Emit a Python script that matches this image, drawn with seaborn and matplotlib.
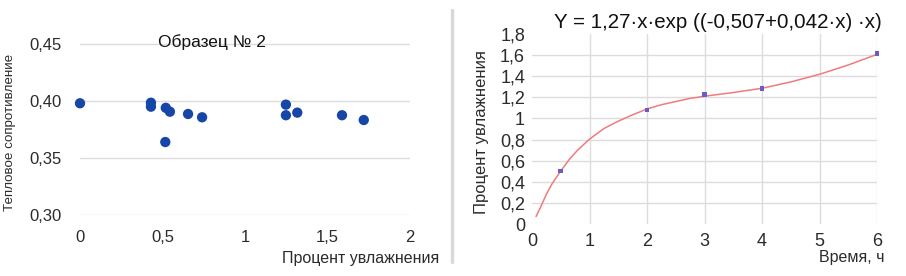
import numpy as np
import pandas as pd
import matplotlib
matplotlib.use("Agg")
import matplotlib.pyplot as plt
import seaborn as sns
from matplotlib.lines import Line2D

sns.set_style("white")
plt.rcParams["font.family"] = ["Liberation Sans", "DejaVu Sans"]

# left panel: thermal resistance vs moisture percent
moist_x = [0.0, 0.43, 0.43, 0.52, 0.545, 0.517, 0.655, 0.74, 1.248, 1.248, 1.317, 1.588, 1.72]
resist_y = [0.398, 0.3985, 0.395, 0.394, 0.3906, 0.364, 0.3886, 0.3857, 0.3968, 0.3875, 0.3898, 0.3875, 0.3833]

# right panel: moisture percent vs time
time_pts = [0.5, 2, 3, 4, 6]
moist_pts = [0.505, 1.08, 1.23, 1.28, 1.61]
# fitted trend line
curve_x = [0.07, 0.15, 0.25, 0.35, 0.5, 0.65, 0.8, 1.0, 1.25, 1.5, 1.75, 2.0, 2.25,
           2.5, 2.75, 3.0, 3.5, 4.0, 4.5, 5.0, 5.5, 6.0]
curve_y = [0.075, 0.165, 0.285, 0.385, 0.505, 0.615, 0.705, 0.805, 0.905, 0.975, 1.035,
           1.09, 1.13, 1.16, 1.19, 1.21, 1.245, 1.285, 1.345, 1.417, 1.505, 1.605]

left_yticks = [0.30, 0.35, 0.40, 0.45]
left_yticklabels = ["0,30", "0,35", "0,40", "0,45"]
left_xticks = [0, 0.5, 1, 1.5, 2]
left_xticklabels = ["0", "0,5", "1", "1,5", "2"]
right_yticks = [0, 0.2, 0.4, 0.6, 0.8, 1.0, 1.2, 1.4, 1.6, 1.8]
right_yticklabels = ["0", "0,2", "0,4", "0,6", "0,8", "1", "1,2", "1,4", "1,6", "1,8"]
right_xticks = [0, 1, 2, 3, 4, 5, 6]

txt = "#2b2b2b"
grid_c = "#dcdcdc"

fig = plt.figure(figsize=(9.06, 2.76), dpi=100)

# ---- left
ax1 = fig.add_axes([0.0883, 0.221, 0.3642, 0.661])
df1 = pd.DataFrame({"x": moist_x, "y": resist_y})
sns.scatterplot(data=df1, x="x", y="y", ax=ax1, color="#1546a8", s=55,
                edgecolor="none", clip_on=False, zorder=3)
ax1.set_xlim(0, 2)
ax1.set_ylim(0.30, 0.46)
ax1.set_yticks(left_yticks, left_yticklabels)
ax1.set_xticks(left_xticks, left_xticklabels)
ax1.grid(axis="y", color=grid_c, lw=1)
ax1.grid(axis="x", visible=False)
for s in ax1.spines.values():
    s.set_visible(False)
ax1.tick_params(axis="y", length=0, pad=13, labelsize=12, labelcolor=txt)
ax1.tick_params(axis="x", length=0, pad=11, labelsize=12, labelcolor=txt)
ax1.set_xlabel("Процент увлажнения", fontsize=11.5, color=txt, ha="right")
ax1.xaxis.set_label_coords(1.09, -0.195)
ax1.set_ylabel("Тепловое сопротивление", fontsize=9.6, color=txt)
ax1.yaxis.set_label_coords(-0.195, 0.45)
ax1.text(0.4, 0.948, "Образец № 2", transform=ax1.transAxes, ha="center",
         va="center", fontsize=12.5, color="#111111")

# separator
fig.add_artist(Line2D([452 / 906, 452 / 906], [1 - 10 / 276, 1 - 262 / 276],
                      color="#d9d9d9", lw=2.5))

# ---- right
ax2 = fig.add_axes([0.5872, 0.1866, 0.3808, 0.6913])
df_c = pd.DataFrame({"x": curve_x, "y": curve_y})
sns.lineplot(data=df_c, x="x", y="y", ax=ax2, color="#f07b7b", lw=1.1, zorder=2)
df2 = pd.DataFrame({"x": time_pts, "y": moist_pts})
sns.scatterplot(data=df2, x="x", y="y", ax=ax2, color="#6a5cc8", marker="s",
                s=12, edgecolor="none", clip_on=False, zorder=3)
ax2.set_xlim(0, 6)
ax2.set_ylim(0, 1.8)
ax2.set_yticks(right_yticks, right_yticklabels)
ax2.set_xticks(right_xticks)
ax2.grid(True, color=grid_c, lw=1)
gl = ax2.yaxis.get_gridlines()
gl[0].set_visible(False)
gl[-1].set_visible(False)
ax2.xaxis.get_gridlines()[0].set_visible(False)
for s in ax2.spines.values():
    s.set_visible(False)
ax2.tick_params(axis="y", length=0, pad=5, labelsize=13, labelcolor=txt)
ax2.tick_params(axis="x", length=0, pad=6, labelsize=13, labelcolor=txt)
ax2.set_xlabel("Время, ч", fontsize=11.5, color=txt, ha="right")
ax2.xaxis.set_label_coords(1.023, -0.134)
ax2.set_ylabel("Процент увлажнения", fontsize=12, color=txt)
ax2.yaxis.set_label_coords(-0.125, 0.485)
ax2.text(0.54, 1.061, "Y = 1,27·x·exp ((-0,507+0,042·x) ·x)", transform=ax2.transAxes,
         ha="center", va="center", fontsize=14.8, color="#111111")

fig.savefig("out.png", dpi=100)
